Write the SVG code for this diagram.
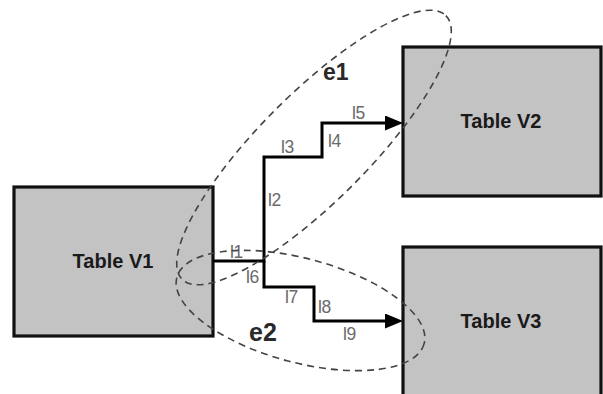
<svg xmlns="http://www.w3.org/2000/svg" width="603" height="394" viewBox="0 0 603 394">
<style>
.box{fill:#c3c3c3;stroke:#111;stroke-width:3.2}
.name{font-family:"Liberation Sans",Arial,sans-serif;font-weight:bold;font-size:20px;fill:#1a1a1a;text-anchor:middle}
.edge{fill:none;stroke:#000;stroke-width:3;stroke-linejoin:miter}
.lbl{font-family:"Liberation Sans",Arial,sans-serif;font-size:17.5px;fill:#6a6a6a;letter-spacing:-0.5px}
.set{fill:none;stroke:#444;stroke-width:1.6;stroke-dasharray:7 5}
.setname{font-family:"Liberation Sans",Arial,sans-serif;font-weight:bold;fill:#2a2a2a}
</style>
<defs>
<marker id="arrow" markerUnits="userSpaceOnUse" markerWidth="18" markerHeight="15" refX="12" refY="7.5" orient="auto">
<path d="M0,0 L18,7.5 L0,15 z" fill="#000"/>
</marker>
</defs>
<rect width="603" height="394" fill="#fff"/>
<g id="V1"><rect class="box" x="14" y="187" width="199" height="149"/><text class="name" x="113" y="268">Table V1</text></g>
<g id="V2"><rect class="box" x="403" y="47" width="198" height="149"/><text class="name" x="501" y="128">Table V2</text></g>
<g id="V3"><rect class="box" x="403" y="247" width="198" height="170"/><text class="name" x="501" y="328">Table V3</text></g>
<g id="connectors">
<path class="edge" d="M213,261 H264 V157 H322 V123 H397" marker-end="url(#arrow)"/>
<path class="edge" d="M264,261 V287 H314 V321 H397" marker-end="url(#arrow)"/>
<text class="lbl" x="230" y="258">l1</text>
<text class="lbl" x="268" y="206">l2</text>
<text class="lbl" x="281" y="153">l3</text>
<text class="lbl" x="328" y="147">l4</text>
<text class="lbl" x="352" y="119">l5</text>
<text class="lbl" x="246" y="283">l6</text>
<text class="lbl" x="285" y="303">l7</text>
<text class="lbl" x="318" y="313">l8</text>
<text class="lbl" x="343" y="340">l9</text>
</g>
<g id="e1"><ellipse class="set" cx="0" cy="0" rx="186.5" ry="54" transform="translate(314 147.5) rotate(-45)"/><text class="setname" x="323" y="80" font-size="23">e1</text></g>
<g id="e2"><ellipse class="set" cx="0" cy="0" rx="128" ry="52" transform="translate(300.5 310.5) rotate(15)"/><text class="setname" x="249" y="341" font-size="25">e2</text></g>
</svg>
